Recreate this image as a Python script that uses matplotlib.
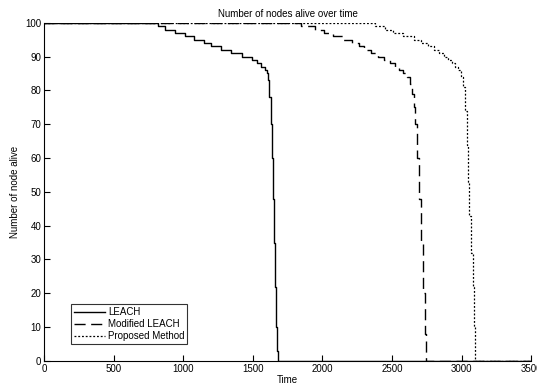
import matplotlib
matplotlib.use("Agg")
import matplotlib.pyplot as plt

plt.rcParams['font.family'] = ['Liberation Sans', 'DejaVu Sans']

# LEACH
leach_t = [0, 820, 870, 940, 1010, 1075, 1150, 1200, 1270, 1345, 1420, 1495, 1530, 1560,
           1585, 1600, 1612, 1620, 1628, 1635, 1642, 1650, 1657, 1665, 1672, 1680, 3500]
leach_v = [100, 99, 98, 97, 96, 95, 94, 93, 92, 91, 90, 89, 88, 87,
           86, 85, 83, 78, 70, 60, 48, 35, 22, 10, 3, 0, 0]

# Modified LEACH
mod_t = [0, 1850, 1950, 2015, 2075, 2150, 2210, 2260, 2300, 2350, 2400, 2440, 2485, 2520,
         2550, 2580, 2610, 2630, 2645, 2655, 2665, 2680, 2695, 2710, 2725, 2735, 2742, 3500]
mod_v = [100, 99, 98, 97, 96, 95, 94, 93, 92, 91, 90, 89, 88, 87,
         86, 85, 84, 82, 79, 75, 70, 60, 48, 35, 20, 8, 0, 0]

# Proposed Method
prop_t = [0, 2380, 2450, 2510, 2580, 2657, 2710, 2760, 2803, 2840, 2875, 2904, 2930, 2955,
          2977, 2995, 3012, 3025, 3040, 3048, 3056, 3066, 3079, 3088, 3098, 3500]
prop_v = [100, 99, 98, 97, 96, 95, 94, 93, 92, 91, 90, 89, 88, 87,
          86, 84, 81, 74, 64, 53, 43, 32, 22, 10, 0, 0]

labels = ['LEACH', 'Modified LEACH', 'Proposed Method']
xticks = [0, 500, 1000, 1500, 2000, 2500, 3000, 3500]
yticks = list(range(0, 101, 10))

fig = plt.figure(figsize=(5.37, 3.86), dpi=100)
ax = fig.add_axes([0.082, 0.065, 0.907, 0.876])

ax.plot(leach_t, leach_v, drawstyle='steps-post', color='black', lw=1.0, ls='-', label=labels[0])
ax.plot(mod_t, mod_v, drawstyle='steps-post', color='black', lw=1.0, ls=(0, (8, 4)), label=labels[1])
ax.plot(prop_t, prop_v, drawstyle='steps-post', color='black', lw=0.9, ls=(0, (1.5, 1.5)), label=labels[2])

ax.set_xlim(0, 3500)
ax.set_ylim(0, 100)
ax.set_xticks(xticks)
ax.set_yticks(yticks)
ax.tick_params(direction='in', length=4, width=0.8, labelsize=7, pad=2)
for s in ['top', 'right']:
    ax.spines[s].set_visible(False)
for s in ['left', 'bottom']:
    ax.spines[s].set_linewidth(0.8)

ax.set_title('Number of nodes alive over time', fontsize=7, pad=4)
ax.set_xlabel('Time', fontsize=7, labelpad=1)
ax.set_ylabel('Number of node alive', fontsize=7, labelpad=4)

leg = ax.legend(loc='lower left', bbox_to_anchor=(0.055, 0.05), fontsize=7, frameon=True,
                fancybox=False, edgecolor='black', handlelength=3.2, borderpad=0.3,
                labelspacing=0.2, handletextpad=0.3, borderaxespad=0)
leg.get_frame().set_linewidth(0.8)

fig.savefig('out.png', dpi=100)
